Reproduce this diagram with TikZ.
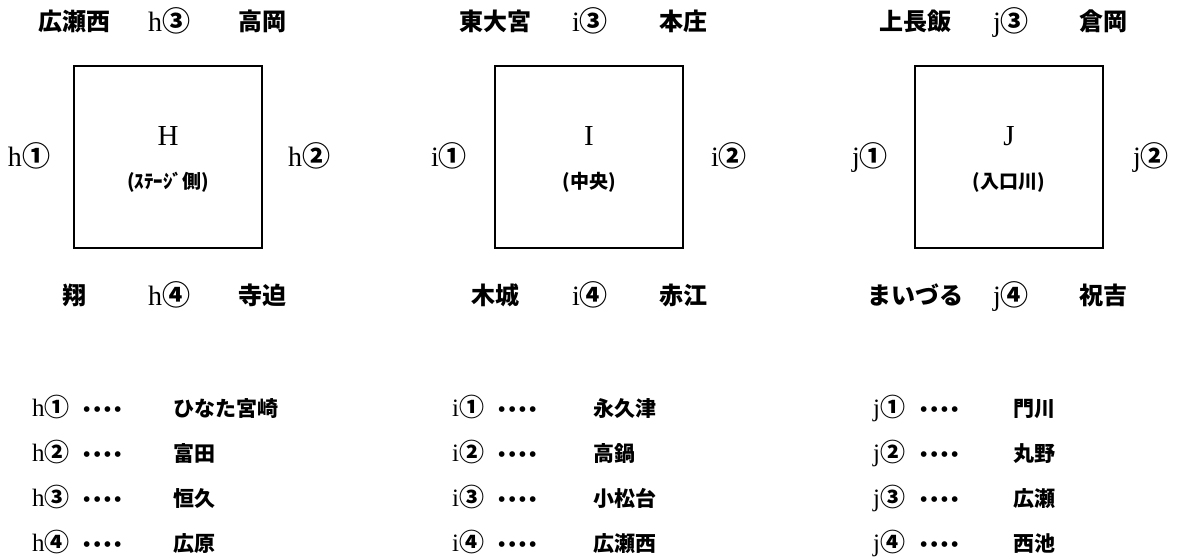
\documentclass[tikz,border=0pt]{standalone}
\usepackage{fontspec}
\setmainfont{Liberation Serif}
\newfontfamily\jp{Noto Sans CJK JP}
\newcommand\mk[2]{#1{\jp\bfseries #2}}
\newcommand\jb[1]{{\jp\bfseries #1}}
\newcommand\fdots{\textbf{•\kern3pt•\kern3pt•\kern3pt•}}
\begin{document}
\begin{tikzpicture}[x=1pt,y=-1pt,
  big/.style={inner sep=0pt, anchor=base, font=\fontsize{24}{24}\selectfont},
  code/.style={inner sep=0pt, anchor=base, font=\fontsize{28}{28}\selectfont},
  lst/.style={inner sep=0pt, anchor=base west, font=\fontsize{21}{21}\selectfont},
  lcode/.style={inner sep=0pt, anchor=base west, font=\fontsize{25}{25}\selectfont},
  room/.style={draw, line width=2pt, minimum width=188pt, minimum height=182pt, inner sep=0pt},
  ttl/.style={inner sep=0pt, anchor=base, font=\fontsize{29}{29}\selectfont},
  sub/.style={inner sep=0pt, anchor=base, font=\fontsize{19}{19}\selectfont\jp\bfseries}]
\useasboundingbox (0,0) rectangle (1181,559);

% ---------- H ----------
\node[room] (boxH) at (168,157) {};
\node[ttl] (tH) at (168,146) {H};
\node[sub] (sH) at (168,188) {(ｽﾃｰｼﾞ側)};
\node[big] (hTL) at (74,31) {\jb{広瀬西}};
\node[code] (hT) at (169,32) {\mk{h}{③}};
\node[big] (hTR) at (262,31) {\jb{高岡}};
\node[big] (hBL) at (74,304) {\jb{翔}};
\node[code] (hB) at (169,305) {\mk{h}{④}};
\node[big] (hBR) at (262,304) {\jb{寺迫}};
\node[code] (hL) at (29,167) {\mk{h}{①}};
\node[code] (hR) at (309,167) {\mk{h}{②}};

% ---------- I ----------
\node[room] (boxI) at (589,157) {};
\node[ttl] (tI) at (589,146) {I};
\node[sub] (sI) at (589,188) {(中央)};
\node[big] (iTL) at (495,31) {\jb{東大宮}};
\node[code] (iT) at (590,32) {\mk{i}{③}};
\node[big] (iTR) at (683,31) {\jb{本庄}};
\node[big] (iBL) at (495,304) {\jb{木城}};
\node[code] (iB) at (590,305) {\mk{i}{④}};
\node[big] (iBR) at (683,304) {\jb{赤江}};
\node[code] (iL) at (449,167) {\mk{i}{①}};
\node[code] (iR) at (729,167) {\mk{i}{②}};

% ---------- J ----------
\node[room] (boxJ) at (1009,157) {};
\node[ttl] (tJ) at (1009,146) {J};
\node[sub] (sJ) at (1009,188) {(入口川)};
\node[big] (jTL) at (915,31) {\jb{上長飯}};
\node[code] (jT) at (1011,32) {\mk{j}{③}};
\node[big] (jTR) at (1103,31) {\jb{倉岡}};
\node[big] (jBL) at (915,304) {\jb{まいづる}};
\node[code] (jB) at (1011,305) {\mk{j}{④}};
\node[big] (jBR) at (1103,304) {\jb{祝吉}};
\node[code] (jL) at (870,167) {\mk{j}{①}};
\node[code] (jR) at (1151,167) {\mk{j}{②}};

% ---------- legend ----------
\node[lcode] (lh1) at (32,416) {\mk{h}{①}};
\node[lst] (dh1) at (83,416) {\fdots};
\node[lst] (nh1) at (173,416) {\jb{ひなた宮崎}};
\node[lcode] (lh2) at (32,461) {\mk{h}{②}};
\node[lst] (dh2) at (83,461) {\fdots};
\node[lst] (nh2) at (173,461) {\jb{富田}};
\node[lcode] (lh3) at (32,506) {\mk{h}{③}};
\node[lst] (dh3) at (83,506) {\fdots};
\node[lst] (nh3) at (173,506) {\jb{恒久}};
\node[lcode] (lh4) at (32,551) {\mk{h}{④}};
\node[lst] (dh4) at (83,551) {\fdots};
\node[lst] (nh4) at (173,551) {\jb{広原}};

\node[lcode] (li1) at (452,416) {\mk{i}{①}};
\node[lst] (di1) at (498,416) {\fdots};
\node[lst] (ni1) at (593,416) {\jb{永久津}};
\node[lcode] (li2) at (452,461) {\mk{i}{②}};
\node[lst] (di2) at (498,461) {\fdots};
\node[lst] (ni2) at (593,461) {\jb{高鍋}};
\node[lcode] (li3) at (452,506) {\mk{i}{③}};
\node[lst] (di3) at (498,506) {\fdots};
\node[lst] (ni3) at (593,506) {\jb{小松台}};
\node[lcode] (li4) at (452,551) {\mk{i}{④}};
\node[lst] (di4) at (498,551) {\fdots};
\node[lst] (ni4) at (593,551) {\jb{広瀬西}};

\node[lcode] (lj1) at (873,416) {\mk{j}{①}};
\node[lst] (dj1) at (920,416) {\fdots};
\node[lst] (nj1) at (1013,416) {\jb{門川}};
\node[lcode] (lj2) at (873,461) {\mk{j}{②}};
\node[lst] (dj2) at (920,461) {\fdots};
\node[lst] (nj2) at (1013,461) {\jb{丸野}};
\node[lcode] (lj3) at (873,506) {\mk{j}{③}};
\node[lst] (dj3) at (920,506) {\fdots};
\node[lst] (nj3) at (1013,506) {\jb{広瀬}};
\node[lcode] (lj4) at (873,551) {\mk{j}{④}};
\node[lst] (dj4) at (920,551) {\fdots};
\node[lst] (nj4) at (1013,551) {\jb{西池}};
\end{tikzpicture}
\end{document}
